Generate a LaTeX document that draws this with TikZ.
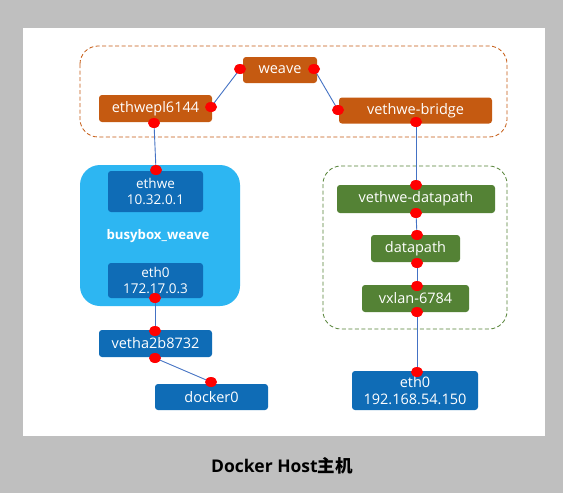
\documentclass[tikz,border=0pt]{standalone}
\usepackage{fontspec}
\setmainfont{Open Sans}
\newfontfamily\cjkfont{Noto Sans CJK SC}
\usetikzlibrary{shapes.geometric}
\definecolor{bgray}{HTML}{BFBFBF}
\definecolor{orng}{HTML}{C55A11}
\definecolor{grn}{HTML}{548235}
\definecolor{dblue}{HTML}{0F6CB6}
\definecolor{lblue}{HTML}{2DB6F2}
\definecolor{lnblue}{HTML}{4472C4}
\begin{document}
\begin{tikzpicture}[x=1pt,y=-1pt,
  box/.style={rounded corners=3pt, inner sep=0pt, text=white, font=\fontsize{14.5}{16}\selectfont, align=center},
  obox/.style={box, fill=orng},
  gbox/.style={box, fill=grn},
  bbox/.style={box, fill=dblue},
  ibox/.style={box, fill=dblue, font=\fontsize{13.5}{16.5}\selectfont},
  dot/.style={ellipse, fill=red, draw=none, minimum width=12pt, minimum height=10pt, inner sep=0pt},
  link/.style={draw=lnblue, line width=0.9pt},
  grp/.style={dashed, line width=0.8pt, rounded corners=18pt, dash pattern=on 4pt off 2.5pt}]
\fill[bgray] (0,0) rectangle (563,493);
\useasboundingbox (0,0) rectangle (563,493);
\fill[white] (23,28) rectangle (545,436);

% groups
\draw[grp, draw=orng] (80,46) rectangle (507,137);
\draw[grp, draw=grn] (323,166) rectangle (507,329);
\fill[lblue, rounded corners=20pt] (80,165) rectangle (240,306);

% boxes
\node[obox, minimum width=74pt, minimum height=26pt] (weave) at (280,70) {weave};
\node[obox, minimum width=113pt, minimum height=27pt] (ethwepl) at (155.5,108.5) {ethwepl6144};
\node[obox, minimum width=153pt, minimum height=26pt] (bridge) at (415.5,110.5) {vethwe-bridge};

\node[ibox, minimum width=95pt, minimum height=41pt] (ethwe) at (155.5,191.5) {ethwe\\10.32.0.1};
\node[text=white, font=\bfseries\fontsize{13.2}{15}\selectfont] (bbw) at (158,236) {busybox\_weave};
\node[ibox, minimum width=95pt, minimum height=35pt] (eth0c) at (155.5,280.5) {eth0\\172.17.0.3};
\node[bbox, minimum width=113pt, minimum height=27pt] (vetha) at (155.5,343.5) {vetha2b8732};
\node[bbox, minimum width=113pt, minimum height=26pt] (docker) at (211.5,397) {docker0};

\node[gbox, minimum width=158pt, minimum height=28pt] (vdp) at (416,199) {vethwe-datapath};
\node[gbox, minimum width=89pt, minimum height=27pt] (dp) at (415.5,248.5) {datapath};
\node[gbox, minimum width=107pt, minimum height=27pt] (vx) at (415.5,298.5) {vxlan-6784};
\node[bbox, minimum width=126pt, minimum height=39pt, font=\fontsize{14.5}{17.5}\selectfont] (eth0h) at (415,390.5) {eth0\\192.168.54.150};

% dot positions
\coordinate (pWl) at (240,69);
\coordinate (pWr) at (314,69);
\coordinate (pEr) at (211,107);
\coordinate (pEb) at (154,123);
\coordinate (pBl) at (338,110);
\coordinate (pBb) at (416,122);
\coordinate (pIt) at (156,170);
\coordinate (pCb) at (155,298);
\coordinate (pVt) at (155,331);
\coordinate (pVb) at (155,358);
\coordinate (pDt) at (211,382);
\coordinate (pDPt) at (416,185);
\coordinate (pDPb) at (416,213);
\coordinate (pdt) at (417,235);
\coordinate (pdb) at (417,263);
\coordinate (pxt) at (417,286);
\coordinate (pxb) at (417,312);
\coordinate (pht) at (417,372);

% links
\draw[link] (pEr) -- (pWl);
\draw[link] (pWr) -- (pBl);
\draw[link] (pEb) -- (pIt);
\draw[link] (pCb) -- (pVt);
\draw[link] (pVb) -- (pDt);
\draw[link] (pBb) -- (pDPt);
\draw[link] (pDPb) -- (pdt);
\draw[link] (pdb) -- (pxt);
\draw[link] (pxb) -- (pht);

% dots
\foreach \p in {pWl,pWr,pEr,pEb,pBl,pBb,pIt,pCb,pVt,pVb,pDt,pDPt,pDPb,pdt,pdb,pxt,pxb,pht}
  \node[dot] (d-\p) at (\p) {};

% caption
\node[font=\bfseries\fontsize{17.5}{20}\selectfont] (cap) at (282,466) {Docker Host{\cjkfont 主机}};
\end{tikzpicture}
\end{document}
